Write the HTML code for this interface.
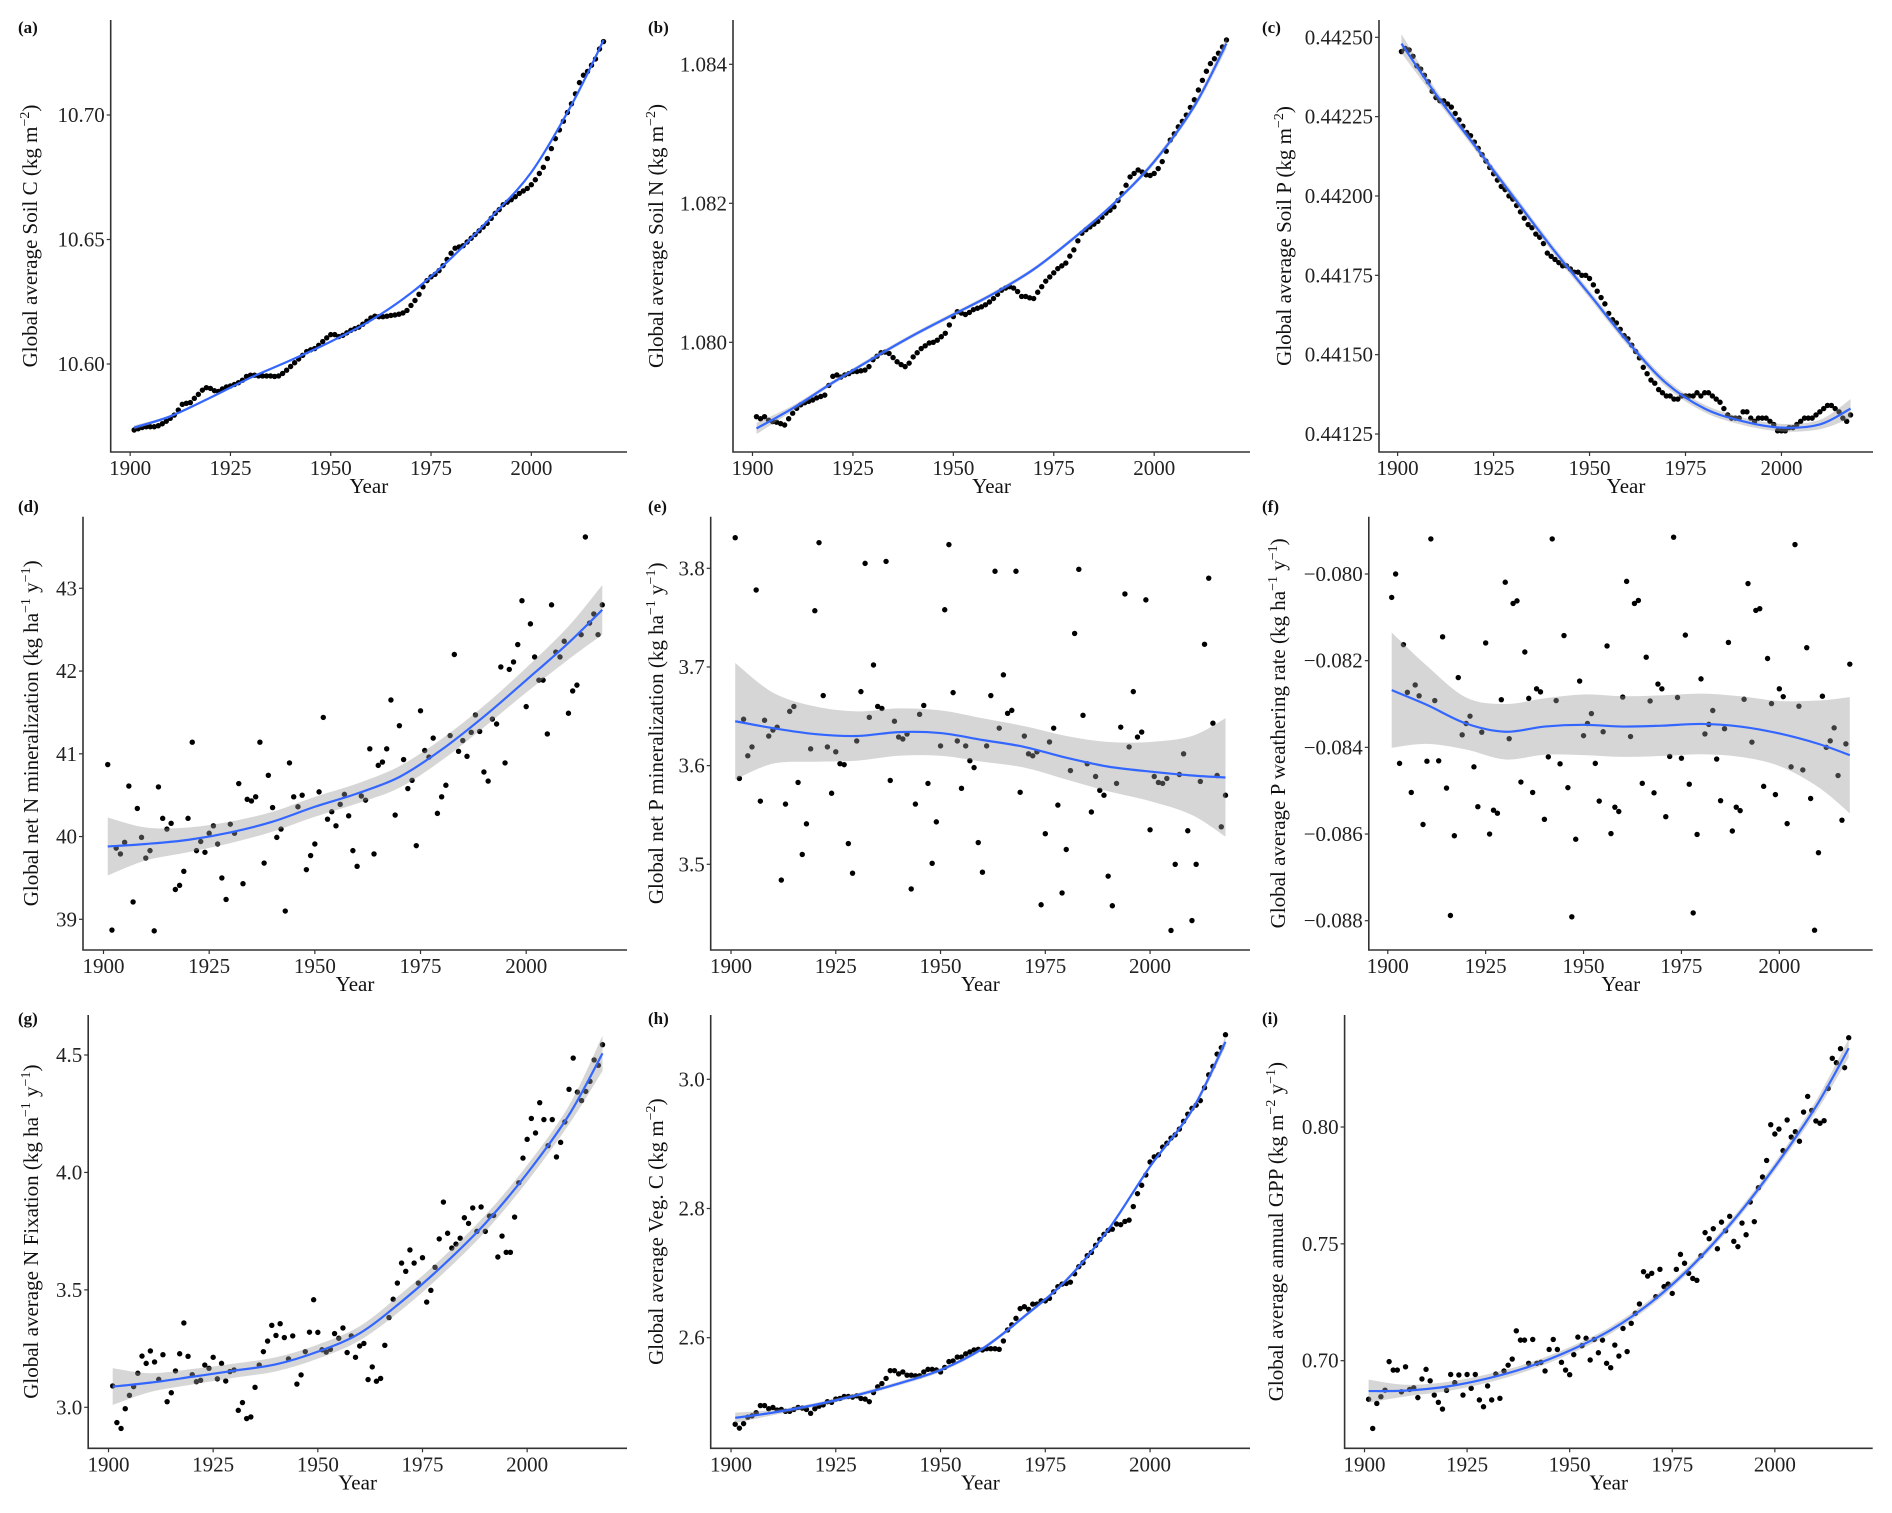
<!DOCTYPE html>
<html><head><meta charset="utf-8"><title>Global soil and vegetation trends 1901–2018</title>
<style>
html,body{margin:0;padding:0;background:#fff;}
svg{display:block;font-family:"Liberation Serif",serif;}
.tick{font-size:21px;fill:#222;}
.ttl{font-size:21px;fill:#111;}
.plab{font-size:17px;font-weight:bold;fill:#111;}
</style></head>
<body>
<svg id="fig" width="1892" height="1513" viewBox="0 0 1892 1513" xmlns="http://www.w3.org/2000/svg"></svg>
<script>
const firstYear = 1901;
const xTickYears = [1900, 1925, 1950, 1975, 2000];
const fitYears = [1901,1910,1920,1930,1940,1950,1960,1970,1980,1990,2000,2010,2018];

const soilC = [10.5735,10.5740,10.5745,10.5748,10.5748,10.5748,10.5752,10.5760,10.5770,10.5782,
10.5795,10.5815,10.5838,10.5842,10.5845,10.5862,10.5878,10.5895,10.5905,10.5902,
10.5893,10.5890,10.5900,10.5908,10.5912,10.5918,10.5925,10.5935,10.5950,10.5955,
10.5955,10.5952,10.5952,10.5952,10.5952,10.5950,10.5952,10.5962,10.5975,10.5990,
10.6005,10.6020,10.6035,10.6050,10.6057,10.6062,10.6075,10.6090,10.6105,10.6118,
10.6118,10.6110,10.6115,10.6125,10.6135,10.6142,10.6148,10.6160,10.6172,10.6185,
10.6192,10.6190,10.6190,10.6192,10.6195,10.6197,10.6200,10.6205,10.6215,10.6235,
10.6255,10.6280,10.6310,10.6335,10.6350,10.6360,10.6375,10.6395,10.6420,10.6445,
10.6465,10.6470,10.6475,10.6490,10.6505,10.6520,10.6535,10.6550,10.6565,10.6585,
10.6605,10.6620,10.6640,10.6650,10.6660,10.6672,10.6685,10.6695,10.6705,10.6720,
10.6740,10.6765,10.6790,10.6825,10.6865,10.6905,10.6940,10.6975,10.7010,10.7045,
10.7085,10.7130,10.7160,10.7175,10.7200,10.7225,10.7265,10.7295];
const soilCFit = [10.5745,10.5790,10.5865,10.5945,10.6015,10.6090,10.6175,10.6285,10.6425,10.6590,10.6770,10.7040,10.7300];
const soilCBand = [0.0008,0.0005,0.0004,0.0004,0.0004,0.0004,0.0004,0.0004,0.0004,0.0004,0.0005,0.0006,0.0008];

const soilN = [1.07893,1.07890,1.07893,1.07888,1.07886,1.07885,1.07883,1.07881,1.07890,1.07898,
1.07905,1.07910,1.07913,1.07915,1.07917,1.07920,1.07922,1.07924,1.07938,1.07951,
1.07953,1.07950,1.07953,1.07955,1.07958,1.07958,1.07959,1.07960,1.07965,1.07975,
1.07980,1.07985,1.07986,1.07984,1.07978,1.07972,1.07968,1.07965,1.07970,1.07979,
1.07985,1.07991,1.07995,1.07999,1.08000,1.08003,1.08008,1.08013,1.08025,1.08037,
1.08044,1.08042,1.08040,1.08043,1.08047,1.08049,1.08051,1.08054,1.08058,1.08063,
1.08069,1.08075,1.08078,1.08080,1.08078,1.08073,1.08066,1.08066,1.08064,1.08063,
1.08072,1.08080,1.08088,1.08094,1.08100,1.08106,1.08110,1.08114,1.08124,1.08133,
1.08146,1.08157,1.08162,1.08166,1.08170,1.08174,1.08180,1.08186,1.08190,1.08195,
1.08204,1.08214,1.08226,1.08238,1.08243,1.08248,1.08245,1.08241,1.08240,1.08243,
1.08250,1.08260,1.08275,1.08291,1.08300,1.08310,1.08318,1.08327,1.08338,1.08349,
1.08363,1.08377,1.08390,1.08401,1.08408,1.08416,1.08425,1.08435];
const soilNFit = [1.07876,1.07905,1.07942,1.07977,1.08010,1.08040,1.08070,1.08105,1.08150,1.08200,1.08260,1.08340,1.08430];
const soilNBand = [0.00008,0.00004,0.00003,0.00003,0.00003,0.00003,0.00003,0.00003,0.00003,0.00003,0.00004,0.00005,0.00008];

const soilP = [0.442455,0.442465,0.44246,0.44244,0.44241,0.44240,0.44238,0.44236,0.44233,0.44231,
0.44230,0.44230,0.44229,0.44228,0.44226,0.44224,0.44222,0.44220,0.44219,0.44217,
0.44215,0.44213,0.44211,0.44209,0.44207,0.44205,0.44203,0.44202,0.44200,0.44199,
0.44197,0.44195,0.44193,0.44191,0.44190,0.44188,0.44187,0.44185,0.44182,0.44181,
0.44180,0.44179,0.44178,0.44178,0.44177,0.44176,0.44176,0.44175,0.44175,0.44174,
0.44172,0.44170,0.44168,0.44166,0.44163,0.44161,0.44160,0.44158,0.44156,0.44155,
0.44153,0.44151,0.44149,0.44146,0.44144,0.44142,0.44141,0.44139,0.44138,0.44137,
0.44137,0.44136,0.44136,0.44137,0.44137,0.44137,0.44137,0.44138,0.44137,0.44138,
0.44138,0.44137,0.44136,0.44135,0.44133,0.44131,0.44130,0.44130,0.44130,0.44132,
0.44132,0.44130,0.44129,0.44130,0.44130,0.44130,0.44129,0.44128,0.44126,0.44126,
0.44126,0.44127,0.44127,0.44128,0.44129,0.44130,0.44130,0.44130,0.44131,0.44132,
0.44133,0.44134,0.44134,0.44133,0.44132,0.44130,0.44129,0.44131];
const soilPFit = [0.44248,0.44232,0.44216,0.44200,0.44184,0.44169,0.44154,0.44141,0.44133,0.44129,0.44127,0.44128,0.44133];
const soilPBand = [0.00003,0.000015,0.000012,0.000012,0.000012,0.000012,0.000012,0.000012,0.000012,0.000012,0.000012,0.000015,0.00003];

const netN = [40.87,38.87,39.86,39.79,39.93,40.61,39.21,40.34,39.99,39.74,
39.83,38.86,40.60,40.22,40.09,40.16,39.36,39.41,39.58,40.22,
41.14,39.83,39.94,39.81,40.04,40.13,39.91,39.50,39.24,40.15,
40.04,40.64,39.43,40.45,40.43,40.48,41.14,39.68,40.74,40.35,
39.99,40.09,39.10,40.89,40.48,40.36,40.50,39.60,39.77,39.91,
40.54,41.44,40.21,40.30,40.13,40.39,40.51,40.25,39.83,39.64,
40.49,40.44,41.06,39.79,40.86,40.90,41.06,41.65,40.26,41.34,
40.93,40.58,40.68,39.89,41.52,41.04,40.96,41.19,40.28,40.48,
40.62,41.22,42.20,41.03,41.16,40.97,41.26,41.47,41.27,40.78,
40.67,41.42,41.36,42.05,40.89,42.02,42.11,42.32,42.85,41.57,
42.57,42.17,41.89,41.89,41.24,42.80,42.23,42.17,42.36,41.49,
41.76,41.83,42.44,43.62,42.58,42.69,42.44,42.80];
const netNFit = [39.88,39.91,39.96,40.05,40.18,40.36,40.52,40.72,41.05,41.45,41.89,42.34,42.74];
const netNBand = [0.35,0.2,0.15,0.13,0.12,0.12,0.12,0.13,0.13,0.13,0.15,0.2,0.3];

const netP = [3.831,3.587,3.647,3.610,3.619,3.778,3.564,3.646,3.630,3.636,
3.639,3.484,3.561,3.655,3.660,3.583,3.510,3.541,3.617,3.757,
3.826,3.671,3.619,3.572,3.614,3.602,3.601,3.521,3.491,3.625,
3.675,3.805,3.649,3.702,3.660,3.658,3.807,3.585,3.645,3.629,
3.627,3.632,3.475,3.561,3.652,3.661,3.582,3.501,3.543,3.620,
3.758,3.824,3.674,3.625,3.577,3.620,3.605,3.598,3.522,3.492,
3.620,3.671,3.797,3.638,3.692,3.653,3.656,3.797,3.573,3.630,
3.612,3.610,3.614,3.459,3.531,3.624,3.638,3.560,3.471,3.515,
3.595,3.734,3.799,3.651,3.602,3.553,3.589,3.575,3.570,3.488,
3.458,3.582,3.639,3.774,3.619,3.675,3.629,3.634,3.768,3.535,
3.589,3.583,3.582,3.587,3.433,3.500,3.591,3.612,3.534,3.443,
3.500,3.584,3.723,3.790,3.643,3.590,3.538,3.570];
const netPFit = [3.645,3.638,3.632,3.630,3.634,3.633,3.626,3.619,3.608,3.599,3.594,3.590,3.588];
const netPBand = [0.059,0.036,0.028,0.025,0.024,0.023,0.022,0.021,0.022,0.025,0.03,0.04,0.06];

const pWeath = [-0.08054,-0.08000,-0.08437,-0.08163,-0.08273,-0.08504,-0.08256,-0.08281,-0.08578,-0.08432,
-0.07919,-0.08292,-0.08431,-0.08145,-0.08494,-0.08788,-0.08604,-0.08239,-0.08371,-0.08345,
-0.08328,-0.08445,-0.08537,-0.08365,-0.08159,-0.08600,-0.08545,-0.08552,-0.08290,-0.08019,
-0.08380,-0.08068,-0.08062,-0.08480,-0.08180,-0.08287,-0.08504,-0.08265,-0.08272,-0.08566,
-0.08422,-0.07919,-0.08292,-0.08438,-0.08142,-0.08493,-0.08791,-0.08612,-0.08247,-0.08373,
-0.08345,-0.08322,-0.08437,-0.08524,-0.08364,-0.08166,-0.08599,-0.08538,-0.08548,-0.08284,
-0.08017,-0.08375,-0.08068,-0.08061,-0.08483,-0.08192,-0.08293,-0.08505,-0.08254,-0.08265,
-0.08560,-0.08421,-0.07915,-0.08285,-0.08425,-0.08141,-0.08485,-0.08782,-0.08601,-0.08242,
-0.08369,-0.08347,-0.08315,-0.08427,-0.08523,-0.08357,-0.08158,-0.08593,-0.08538,-0.08546,
-0.08289,-0.08022,-0.08388,-0.08084,-0.08080,-0.08490,-0.08195,-0.08299,-0.08509,-0.08265,
-0.08283,-0.08576,-0.08445,-0.07932,-0.08305,-0.08452,-0.08170,-0.08518,-0.08822,-0.08643,
-0.08282,-0.08400,-0.08385,-0.08355,-0.08465,-0.08568,-0.08392,-0.08208];
const pWeathFit = [-0.08268,-0.08302,-0.08345,-0.08364,-0.08352,-0.08348,-0.08352,-0.08350,-0.08346,-0.08352,-0.08368,-0.08392,-0.08418];
const pWeathBand = [0.00133,0.0009,0.0006,0.00064,0.00065,0.0007,0.0007,0.0007,0.0007,0.0007,0.00075,0.001,0.00134];

const nFix = [3.091,2.935,2.910,2.994,3.051,3.088,3.145,3.218,3.187,3.240,
3.193,3.119,3.224,3.024,3.062,3.155,3.228,3.359,3.217,3.139,
3.109,3.115,3.180,3.166,3.213,3.121,3.187,3.112,3.152,3.159,
2.987,3.020,2.952,2.959,3.085,3.180,3.237,3.282,3.349,3.306,
3.356,3.297,3.206,3.304,3.099,3.138,3.237,3.320,3.458,3.319,
3.245,3.235,3.247,3.314,3.294,3.338,3.233,3.304,3.213,3.261,
3.272,3.118,3.172,3.111,3.123,3.264,3.382,3.460,3.529,3.614,
3.579,3.670,3.614,3.529,3.637,3.448,3.498,3.596,3.717,3.874,
3.741,3.678,3.695,3.720,3.807,3.783,3.849,3.749,3.853,3.749,
3.814,3.817,3.640,3.729,3.660,3.660,3.810,3.956,4.061,4.141,
4.230,4.168,4.297,4.225,4.114,4.225,4.066,4.128,4.215,4.354,
4.487,4.342,4.306,4.345,4.388,4.479,4.456,4.544];
const nFixFit = [3.088,3.105,3.130,3.156,3.183,3.237,3.315,3.450,3.606,3.783,3.996,4.245,4.507];
const nFixBand = [0.078,0.04,0.033,0.03,0.03,0.03,0.03,0.035,0.035,0.035,0.035,0.04,0.075];

const vegC = [2.466,2.460,2.467,2.477,2.479,2.484,2.495,2.495,2.490,2.492,
2.488,2.489,2.486,2.486,2.489,2.492,2.491,2.489,2.483,2.490,
2.494,2.496,2.501,2.500,2.505,2.506,2.509,2.509,2.508,2.510,
2.506,2.505,2.501,2.515,2.524,2.529,2.537,2.549,2.549,2.544,
2.547,2.542,2.542,2.541,2.541,2.547,2.551,2.551,2.550,2.547,
2.554,2.563,2.564,2.570,2.570,2.575,2.578,2.581,2.582,2.581,
2.583,2.583,2.583,2.582,2.595,2.612,2.620,2.630,2.645,2.648,
2.644,2.652,2.652,2.657,2.657,2.661,2.671,2.679,2.683,2.684,
2.686,2.699,2.710,2.716,2.727,2.732,2.743,2.752,2.760,2.766,
2.768,2.776,2.775,2.780,2.782,2.803,2.823,2.836,2.852,2.872,
2.880,2.883,2.895,2.901,2.909,2.914,2.923,2.935,2.946,2.955,
2.960,2.967,2.987,3.007,3.020,3.039,3.049,3.069];
const vegCFit = [2.476,2.484,2.496,2.511,2.529,2.550,2.583,2.633,2.689,2.767,2.865,2.952,3.058];
const vegCBand = [0.008,0.004,0.003,0.003,0.003,0.003,0.003,0.003,0.003,0.003,0.003,0.004,0.008];

const gpp = [0.6835,0.6710,0.6817,0.6846,0.6874,0.6996,0.6960,0.6960,0.6867,0.6974,
0.6877,0.6884,0.6842,0.6922,0.6963,0.6914,0.6853,0.6822,0.6793,0.6873,
0.6941,0.6906,0.6939,0.6853,0.6941,0.6882,0.6941,0.6832,0.6803,0.6892,
0.6832,0.6943,0.6839,0.6956,0.6981,0.7007,0.7128,0.7088,0.7088,0.6989,
0.7091,0.6989,0.6993,0.6956,0.7048,0.7091,0.7048,0.6993,0.6960,0.6940,
0.7026,0.7101,0.7064,0.7096,0.7003,0.7091,0.7034,0.7088,0.6989,0.6970,
0.7067,0.7020,0.7138,0.7039,0.7160,0.7203,0.7243,0.7381,0.7362,0.7374,
0.7274,0.7391,0.7317,0.7328,0.7288,0.7391,0.7455,0.7417,0.7374,0.7352,
0.7344,0.7449,0.7548,0.7522,0.7565,0.7479,0.7593,0.7556,0.7618,0.7511,
0.7488,0.7589,0.7539,0.7679,0.7595,0.7740,0.7786,0.7857,0.8010,0.7970,
0.7991,0.7899,0.8030,0.7957,0.7980,0.7939,0.8064,0.8131,0.8071,0.8026,
0.8016,0.8027,0.8165,0.8294,0.8275,0.8335,0.8254,0.8382];
const gppFit = [0.6870,0.6872,0.6889,0.6924,0.6974,0.7043,0.7131,0.7252,0.7409,0.7602,0.7830,0.8087,0.8337];
const gppBand = [0.0049,0.0025,0.002,0.0018,0.0016,0.0015,0.0015,0.0015,0.0015,0.0016,0.0018,0.0025,0.004];

const soilCTicks = ["10.60","10.65","10.70"];
const soilNTicks = ["1.080","1.082","1.084"];
const soilPTicks = ["0.44125","0.44150","0.44175","0.44200","0.44225","0.44250"];
const netNTicks = ["39","40","41","42","43"];
const netPTicks = ["3.5","3.6","3.7","3.8"];
const pWeathTicks = ["\u22120.088","\u22120.086","\u22120.084","\u22120.082","\u22120.080"];
const nFixTicks = ["3.0","3.5","4.0","4.5"];
const vegCTicks = ["2.6","2.8","3.0"];
const gppTicks = ["0.70","0.75","0.80"];

const NS = "http://www.w3.org/2000/svg";
const svg = document.getElementById("fig");
function mk(tag, attrs, parent){ const e=document.createElementNS(NS,tag); for(const k in attrs) e.setAttribute(k,attrs[k]); (parent||svg).appendChild(e); return e; }

const panels = [
 {id:"a", lab:"(a)", labX:18, labY:33, left:110.7, right:627, top:20, bottom:452, v0:10.60, p0:364, v1:10.70, p1:115, data:soilC, fit:soilCFit, band:soilCBand, ticks:soilCTicks, titleX:30, title:[["Global average Soil C (kg m",0],["\u22122",1],[")",0]]},
 {id:"b", lab:"(b)", labX:648, labY:33, left:733, right:1250, top:20, bottom:452, v0:1.080, p0:342.3, v1:1.084, p1:64.3, data:soilN, fit:soilNFit, band:soilNBand, ticks:soilNTicks, titleX:656, title:[["Global average Soil N (kg m",0],["\u22122",1],[")",0]]},
 {id:"c", lab:"(c)", labX:1262, labY:33, left:1379, right:1873, top:20, bottom:452, v0:0.44125, p0:434, v1:0.44250, p1:37.3, data:soilP, fit:soilPFit, band:soilPBand, ticks:soilPTicks, titleX:1284, title:[["Global average Soil P (kg m",0],["\u22122",1],[")",0]]},
 {id:"d", lab:"(d)", labX:18, labY:512, left:83, right:627, top:516.7, bottom:950, v0:39, p0:919.3, v1:43, p1:588.3, data:netN, fit:netNFit, band:netNBand, ticks:netNTicks, titleX:31, title:[["Global net N mineralization (kg ha",0],["\u22121",1],[" y",0],["\u22121",1],[")",0]]},
 {id:"e", lab:"(e)", labX:648, labY:512, left:710.7, right:1250, top:516.7, bottom:950, v0:3.5, p0:864.3, v1:3.8, p1:568.3, data:netP, fit:netPFit, band:netPBand, ticks:netPTicks, titleX:656, title:[["Global net P mineralization (kg ha",0],["\u22121",1],[" y",0],["\u22121",1],[")",0]]},
 {id:"f", lab:"(f)", labX:1262, labY:512, left:1368.8, right:1872.7, top:516.7, bottom:950, v0:-0.088, p0:920.7, v1:-0.080, p1:574, data:pWeath, fit:pWeathFit, band:pWeathBand, ticks:pWeathTicks, titleX:1278, title:[["Global average P weathering rate (kg ha",0],["\u22121",1],[" y",0],["\u22121",1],[")",0]]},
 {id:"g", lab:"(g)", labX:18, labY:1024, left:88.2, right:627, top:1015, bottom:1448.3, v0:3.0, p0:1407.3, v1:4.5, p1:1055, data:nFix, fit:nFixFit, band:nFixBand, ticks:nFixTicks, titleX:31, title:[["Global average N Fixation (kg ha",0],["\u22121",1],[" y",0],["\u22121",1],[")",0]]},
 {id:"h", lab:"(h)", labX:648, labY:1024, left:710.7, right:1250, top:1015, bottom:1448.3, v0:2.6, p0:1337.7, v1:3.0, p1:1079.3, data:vegC, fit:vegCFit, band:vegCBand, ticks:vegCTicks, titleX:656, title:[["Global average Veg. C (kg m",0],["\u22122",1],[")",0]]},
 {id:"i", lab:"(i)", labX:1262, labY:1024, left:1344.6, right:1872.7, top:1015, bottom:1448.3, v0:0.70, p0:1360.7, v1:0.80, p1:1127, data:gpp, fit:gppFit, band:gppBand, ticks:gppTicks, titleX:1276, title:[["Global average annual GPP (kg m",0],["\u22122",1],[" y",0],["\u22121",1],[")",0]]}
];

function xScale(p, yr){ return p.left + (yr-1895.15)/(2023.85-1895.15)*(p.right-p.left); }
function yScale(p, v){ return p.p0 + (v-p.v0)/(p.v1-p.v0)*(p.p1-p.p0); }
function curveSeg(pts){
  let d="";
  for(let i=0;i<pts.length-1;i++){
    const p0=pts[Math.max(0,i-1)], p1=pts[i], p2=pts[i+1], p3=pts[Math.min(pts.length-1,i+2)];
    const c1x=p1[0]+(p2[0]-p0[0])/6, c1y=p1[1]+(p2[1]-p0[1])/6;
    const c2x=p2[0]-(p3[0]-p1[0])/6, c2y=p2[1]-(p3[1]-p1[1])/6;
    d+=" C"+c1x.toFixed(2)+","+c1y.toFixed(2)+" "+c2x.toFixed(2)+","+c2y.toFixed(2)+" "+p2[0].toFixed(2)+","+p2[1].toFixed(2);
  }
  return d;
}

panels.forEach(function(p){
  const g = mk("g",{});
  
  

  const lab = mk("text",{x:p.labX,y:p.labY,"class":"plab"},g);
  lab.textContent = p.lab;
  
  

  const pg = mk("g",{},g);
  
  
  p.data.forEach(function(v,i){
    const c = mk("circle",{cx:xScale(p,firstYear+i).toFixed(2),cy:yScale(p,v).toFixed(2),r:2.7,fill:"#000"},pg);
    
    
  });

  const up = fitYears.map(function(yr,i){ return [xScale(p,yr), yScale(p,p.fit[i]+p.band[i])]; });
  const lo = fitYears.map(function(yr,i){ return [xScale(p,yr), yScale(p,p.fit[i]-p.band[i])]; }).reverse();
  const bd = "M"+up[0][0]+","+up[0][1]+curveSeg(up)+" L"+lo[0][0]+","+lo[0][1]+curveSeg(lo)+" Z";
  const band = mk("path",{d:bd,fill:"#999999","fill-opacity":0.4,stroke:"none"},g);
  
  

  const fp = fitYears.map(function(yr,i){ return [xScale(p,yr), yScale(p,p.fit[i])]; });
  const line = mk("path",{d:"M"+fp[0][0]+","+fp[0][1]+curveSeg(fp),fill:"none",stroke:"#3366FF","stroke-width":2.2},g);
  
  

  const ax = mk("path",{d:"M"+p.left+","+p.top+" L"+p.left+","+p.bottom+" L"+p.right+","+p.bottom,fill:"none",stroke:"#333","stroke-width":1.6},g);
  
  

  xTickYears.forEach(function(yr){
    const x = xScale(p,yr);
    mk("line",{x1:x,y1:p.bottom,x2:x,y2:p.bottom+4,stroke:"#333","stroke-width":1.2},g);
    const t = mk("text",{x:x,y:p.bottom+23,"text-anchor":"middle","class":"tick"},g);
    t.textContent = String(yr);
    
    
  });
  p.ticks.forEach(function(s){
    const v = parseFloat(s.replace("\u2212","-"));
    const y = yScale(p,v);
    mk("line",{x1:p.left-4,y1:y,x2:p.left,y2:y,stroke:"#333","stroke-width":1.2},g);
    const t = mk("text",{x:p.left-6,y:y+7,"text-anchor":"end","class":"tick"},g);
    t.textContent = s;
    
    
  });

  const xt = mk("text",{x:(p.left+p.right)/2,y:p.bottom+41,"text-anchor":"middle","class":"ttl"},g);
  xt.textContent = "Year";
  
  

  const cy = (p.top+p.bottom)/2;
  const yt = mk("text",{x:0,y:0,"text-anchor":"middle","class":"ttl",transform:"translate("+(p.titleX+7)+","+cy+") rotate(-90)"},g);
  
  
  let sup=false;
  p.title.forEach(function(part){
    const ts = mk("tspan",{},yt);
    if(part[1]===1 && !sup){ ts.setAttribute("dy","-8"); ts.setAttribute("font-size","14"); sup=true; }
    else if(part[1]===0 && sup){ ts.setAttribute("dy","8"); sup=false; }
    else if(part[1]===1){ ts.setAttribute("font-size","14"); }
    ts.textContent = part[0];
  });
});
</script>
</body></html>
